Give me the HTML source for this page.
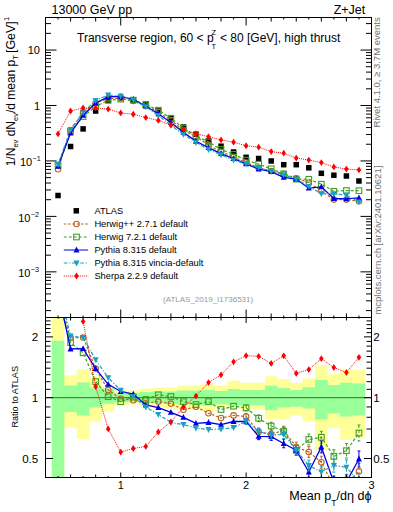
<!DOCTYPE html><html><head><meta charset="utf-8"><style>html,body{margin:0;padding:0;background:#fff;}svg{display:block;}text{font-family:"Liberation Sans",sans-serif;}</style></head><body>
<svg width="393" height="512" viewBox="0 0 393 512">
<defs><clipPath id="cm"><rect x="45.5" y="17.5" width="326" height="300"/></clipPath><clipPath id="cr"><rect x="45.5" y="317.5" width="326" height="160"/></clipPath></defs>
<g clip-path="url(#cr)">
<path d="M51.77,317.00H64.31V477.50H51.77ZM64.31,375.30H76.84V427.60H64.31ZM76.84,369.20H89.38V439.00H76.84ZM89.38,376.30H101.92V421.50H89.38ZM101.92,386.50H114.46V411.40H101.92ZM114.46,390.50H127.00V405.80H114.46ZM127.00,390.60H139.54V404.60H127.00ZM139.53,388.80H152.07V405.90H139.53ZM152.07,387.60H164.61V407.20H152.07ZM164.61,387.60H177.15V408.40H164.61ZM177.15,385.50H189.69V409.70H177.15ZM189.69,385.50H202.22V409.70H189.69ZM202.22,384.30H214.76V411.50H202.22ZM214.76,385.80H227.30V407.20H214.76ZM227.30,380.70H239.84V408.20H227.30ZM239.84,382.80H252.38V409.20H239.84ZM252.38,382.80H264.91V409.20H252.38ZM264.92,376.30H277.45V419.40H264.92ZM277.45,379.00H289.99V419.50H277.45ZM289.99,382.80H302.53V415.60H289.99ZM302.53,378.40H315.07V421.50H302.53ZM315.07,365.20H327.61V450.20H315.07ZM327.61,374.00H340.14V428.20H327.61ZM340.14,369.60H352.68V440.00H340.14ZM352.68,369.60H365.22V437.90H352.68Z" fill="#ffff99"/>
<path d="M51.77,340.70H64.31V477.50H51.77ZM64.31,385.50H76.84V411.90H64.31ZM76.84,382.40H89.38V415.40H76.84ZM89.38,387.50H101.92V407.50H89.38ZM101.92,388.50H114.46V403.80H101.92ZM114.46,393.60H127.00V402.20H114.46ZM127.00,393.20H139.54V402.10H127.00ZM139.53,391.90H152.07V402.80H139.53ZM152.07,391.40H164.61V403.30H152.07ZM164.61,391.40H177.15V403.90H164.61ZM177.15,390.60H189.69V404.60H177.15ZM189.69,390.60H202.22V404.60H189.69ZM202.22,390.10H214.76V405.40H202.22ZM214.76,390.90H227.30V404.20H214.76ZM227.30,388.90H239.84V405.20H227.30ZM239.84,389.90H252.38V405.20H239.84ZM252.38,389.90H264.91V405.20H252.38ZM264.92,385.80H277.45V410.30H264.92ZM277.45,388.00H289.99V407.50H277.45ZM289.99,390.10H302.53V406.80H289.99ZM302.53,387.20H315.07V408.60H302.53ZM315.07,379.90H327.61V419.40H315.07ZM327.61,385.10H340.14V413.60H327.61ZM340.14,382.80H352.68V416.50H340.14ZM352.68,383.40H365.22V415.60H352.68Z" fill="#99ff99"/>
</g>
<line x1="45.5" y1="397.7" x2="371.5" y2="397.7" stroke="#000" stroke-width="1" stroke-opacity="0.6"/>
<g clip-path="url(#cm)">
<rect x="55.29" y="192.75" width="5.5" height="5.5" fill="#000"/>
<rect x="67.83" y="143.75" width="5.5" height="5.5" fill="#000"/>
<rect x="80.36" y="126.15" width="5.5" height="5.5" fill="#000"/>
<rect x="92.90" y="108.25" width="5.5" height="5.5" fill="#000"/>
<rect x="105.44" y="97.75" width="5.5" height="5.5" fill="#000"/>
<rect x="117.98" y="95.25" width="5.5" height="5.5" fill="#000"/>
<rect x="130.52" y="97.55" width="5.5" height="5.5" fill="#000"/>
<rect x="143.05" y="101.45" width="5.5" height="5.5" fill="#000"/>
<rect x="155.59" y="108.25" width="5.5" height="5.5" fill="#000"/>
<rect x="168.13" y="115.75" width="5.5" height="5.5" fill="#000"/>
<rect x="180.67" y="124.25" width="5.5" height="5.5" fill="#000"/>
<rect x="193.21" y="131.45" width="5.5" height="5.5" fill="#000"/>
<rect x="205.74" y="138.05" width="5.5" height="5.5" fill="#000"/>
<rect x="218.28" y="143.45" width="5.5" height="5.5" fill="#000"/>
<rect x="230.82" y="149.25" width="5.5" height="5.5" fill="#000"/>
<rect x="243.36" y="154.55" width="5.5" height="5.5" fill="#000"/>
<rect x="255.90" y="155.75" width="5.5" height="5.5" fill="#000"/>
<rect x="268.43" y="158.25" width="5.5" height="5.5" fill="#000"/>
<rect x="280.97" y="161.95" width="5.5" height="5.5" fill="#000"/>
<rect x="293.51" y="161.95" width="5.5" height="5.5" fill="#000"/>
<rect x="306.05" y="165.05" width="5.5" height="5.5" fill="#000"/>
<rect x="318.59" y="170.55" width="5.5" height="5.5" fill="#000"/>
<rect x="331.12" y="172.45" width="5.5" height="5.5" fill="#000"/>
<rect x="343.66" y="173.25" width="5.5" height="5.5" fill="#000"/>
<rect x="356.20" y="178.25" width="5.5" height="5.5" fill="#000"/>
</g>
<g clip-path="url(#cm)"><polyline points="58.04,169.30 70.58,130.06 83.11,112.37 95.65,103.01 108.19,98.39 120.73,98.27 133.27,100.99 145.80,105.71 158.34,112.07 170.88,120.12 183.42,130.29 195.96,136.67 208.49,145.05 221.03,151.77 233.57,156.86 246.11,162.46 258.65,167.92 271.18,170.96 283.72,173.70 296.26,178.23 308.80,182.71 321.34,191.01 333.87,199.60 346.41,199.60 358.95,201.20" fill="none" stroke="#b9621c" stroke-width="1.2" stroke-dasharray="2.5,1.8"/>
<circle cx="58.04" cy="169.30" r="2.75" fill="none" stroke="#b9621c" stroke-width="1.1"/>
<circle cx="70.58" cy="130.06" r="2.75" fill="none" stroke="#b9621c" stroke-width="1.1"/>
<circle cx="83.11" cy="112.37" r="2.75" fill="none" stroke="#b9621c" stroke-width="1.1"/>
<circle cx="95.65" cy="103.01" r="2.75" fill="none" stroke="#b9621c" stroke-width="1.1"/>
<circle cx="108.19" cy="98.39" r="2.75" fill="none" stroke="#b9621c" stroke-width="1.1"/>
<circle cx="120.73" cy="98.27" r="2.75" fill="none" stroke="#b9621c" stroke-width="1.1"/>
<circle cx="133.27" cy="100.99" r="2.75" fill="none" stroke="#b9621c" stroke-width="1.1"/>
<circle cx="145.80" cy="105.71" r="2.75" fill="none" stroke="#b9621c" stroke-width="1.1"/>
<circle cx="158.34" cy="112.07" r="2.75" fill="none" stroke="#b9621c" stroke-width="1.1"/>
<circle cx="170.88" cy="120.12" r="2.75" fill="none" stroke="#b9621c" stroke-width="1.1"/>
<circle cx="183.42" cy="130.29" r="2.75" fill="none" stroke="#b9621c" stroke-width="1.1"/>
<circle cx="195.96" cy="136.67" r="2.75" fill="none" stroke="#b9621c" stroke-width="1.1"/>
<circle cx="208.49" cy="145.05" r="2.75" fill="none" stroke="#b9621c" stroke-width="1.1"/>
<circle cx="221.03" cy="151.77" r="2.75" fill="none" stroke="#b9621c" stroke-width="1.1"/>
<circle cx="233.57" cy="156.86" r="2.75" fill="none" stroke="#b9621c" stroke-width="1.1"/>
<circle cx="246.11" cy="162.46" r="2.75" fill="none" stroke="#b9621c" stroke-width="1.1"/>
<circle cx="258.65" cy="167.92" r="2.75" fill="none" stroke="#b9621c" stroke-width="1.1"/>
<circle cx="271.18" cy="170.96" r="2.75" fill="none" stroke="#b9621c" stroke-width="1.1"/>
<circle cx="283.72" cy="173.70" r="2.75" fill="none" stroke="#b9621c" stroke-width="1.1"/>
<circle cx="296.26" cy="178.23" r="2.75" fill="none" stroke="#b9621c" stroke-width="1.1"/>
<circle cx="308.80" cy="182.71" r="2.75" fill="none" stroke="#b9621c" stroke-width="1.1"/>
<circle cx="321.34" cy="191.01" r="2.75" fill="none" stroke="#b9621c" stroke-width="1.1"/>
<circle cx="333.87" cy="199.60" r="2.75" fill="none" stroke="#b9621c" stroke-width="1.1"/>
<circle cx="346.41" cy="199.60" r="2.75" fill="none" stroke="#b9621c" stroke-width="1.1"/>
<circle cx="358.95" cy="201.20" r="2.75" fill="none" stroke="#b9621c" stroke-width="1.1"/>
</g>
<g clip-path="url(#cr)"><polyline points="58.04,302.26 70.58,337.80 83.11,337.50 95.65,368.60 108.19,390.00 120.73,398.70 133.27,400.20 145.80,403.20 158.34,401.60 170.88,403.60 183.42,409.70 195.96,406.70 208.49,413.20 221.03,418.00 233.57,415.40 246.11,416.50 258.65,432.00 271.18,434.00 283.72,430.50 296.26,447.00 308.80,452.00 321.34,462.20 333.87,486.59 346.41,483.67 358.95,471.30" fill="none" stroke="#b9621c" stroke-width="1.2" stroke-dasharray="2.5,1.8"/>
<path d="M246.11,413.56V419.44M258.65,428.65V435.35M271.18,430.21V437.79M283.72,426.22V434.78M296.26,442.20V451.80M308.80,446.64V457.36M321.34,456.24V468.16M333.87,479.98V493.19M346.41,476.39V490.96M358.95,463.30V479.30" stroke="#b9621c" stroke-width="1" fill="none" stroke-dasharray="2.5,1.8"/><path d="M244.61,413.56h3M244.61,419.44h3M257.15,428.65h3M257.15,435.35h3M269.68,430.21h3M269.68,437.79h3M282.22,426.22h3M282.22,434.78h3M294.76,442.20h3M294.76,451.80h3M307.30,446.64h3M307.30,457.36h3M319.84,456.24h3M319.84,468.16h3M332.37,479.98h3M332.37,493.19h3M344.91,476.39h3M344.91,490.96h3M357.45,463.30h3M357.45,479.30h3" stroke="#b9621c" stroke-width="1" fill="none"/>
<circle cx="58.04" cy="302.26" r="2.75" fill="none" stroke="#b9621c" stroke-width="1.1"/>
<circle cx="70.58" cy="337.80" r="2.75" fill="none" stroke="#b9621c" stroke-width="1.1"/>
<circle cx="83.11" cy="337.50" r="2.75" fill="none" stroke="#b9621c" stroke-width="1.1"/>
<circle cx="95.65" cy="368.60" r="2.75" fill="none" stroke="#b9621c" stroke-width="1.1"/>
<circle cx="108.19" cy="390.00" r="2.75" fill="none" stroke="#b9621c" stroke-width="1.1"/>
<circle cx="120.73" cy="398.70" r="2.75" fill="none" stroke="#b9621c" stroke-width="1.1"/>
<circle cx="133.27" cy="400.20" r="2.75" fill="none" stroke="#b9621c" stroke-width="1.1"/>
<circle cx="145.80" cy="403.20" r="2.75" fill="none" stroke="#b9621c" stroke-width="1.1"/>
<circle cx="158.34" cy="401.60" r="2.75" fill="none" stroke="#b9621c" stroke-width="1.1"/>
<circle cx="170.88" cy="403.60" r="2.75" fill="none" stroke="#b9621c" stroke-width="1.1"/>
<circle cx="183.42" cy="409.70" r="2.75" fill="none" stroke="#b9621c" stroke-width="1.1"/>
<circle cx="195.96" cy="406.70" r="2.75" fill="none" stroke="#b9621c" stroke-width="1.1"/>
<circle cx="208.49" cy="413.20" r="2.75" fill="none" stroke="#b9621c" stroke-width="1.1"/>
<circle cx="221.03" cy="418.00" r="2.75" fill="none" stroke="#b9621c" stroke-width="1.1"/>
<circle cx="233.57" cy="415.40" r="2.75" fill="none" stroke="#b9621c" stroke-width="1.1"/>
<circle cx="246.11" cy="416.50" r="2.75" fill="none" stroke="#b9621c" stroke-width="1.1"/>
<circle cx="258.65" cy="432.00" r="2.75" fill="none" stroke="#b9621c" stroke-width="1.1"/>
<circle cx="271.18" cy="434.00" r="2.75" fill="none" stroke="#b9621c" stroke-width="1.1"/>
<circle cx="283.72" cy="430.50" r="2.75" fill="none" stroke="#b9621c" stroke-width="1.1"/>
<circle cx="296.26" cy="447.00" r="2.75" fill="none" stroke="#b9621c" stroke-width="1.1"/>
<circle cx="308.80" cy="452.00" r="2.75" fill="none" stroke="#b9621c" stroke-width="1.1"/>
<circle cx="321.34" cy="462.20" r="2.75" fill="none" stroke="#b9621c" stroke-width="1.1"/>
<circle cx="333.87" cy="486.59" r="2.75" fill="none" stroke="#b9621c" stroke-width="1.1"/>
<circle cx="346.41" cy="483.67" r="2.75" fill="none" stroke="#b9621c" stroke-width="1.1"/>
<circle cx="358.95" cy="471.30" r="2.75" fill="none" stroke="#b9621c" stroke-width="1.1"/>
</g>
<g clip-path="url(#cm)"><polyline points="58.04,165.00 70.58,131.37 83.11,116.57 95.65,106.58 108.19,100.23 120.73,99.10 133.27,100.11 145.80,104.67 158.34,110.20 170.88,118.17 183.42,128.07 195.96,136.09 208.49,141.87 221.03,149.44 233.57,154.33 246.11,160.10 258.65,164.15 271.18,168.77 283.72,173.92 296.26,179.14 308.80,179.27 321.34,184.17 333.87,191.31 346.41,190.55 358.95,190.69" fill="none" stroke="#40a020" stroke-width="1.2" stroke-dasharray="3,2"/>
<rect x="55.24" y="162.20" width="5.6" height="5.6" fill="none" stroke="#40a020" stroke-width="1.1"/>
<rect x="67.78" y="128.57" width="5.6" height="5.6" fill="none" stroke="#40a020" stroke-width="1.1"/>
<rect x="80.31" y="113.77" width="5.6" height="5.6" fill="none" stroke="#40a020" stroke-width="1.1"/>
<rect x="92.85" y="103.78" width="5.6" height="5.6" fill="none" stroke="#40a020" stroke-width="1.1"/>
<rect x="105.39" y="97.43" width="5.6" height="5.6" fill="none" stroke="#40a020" stroke-width="1.1"/>
<rect x="117.93" y="96.30" width="5.6" height="5.6" fill="none" stroke="#40a020" stroke-width="1.1"/>
<rect x="130.47" y="97.31" width="5.6" height="5.6" fill="none" stroke="#40a020" stroke-width="1.1"/>
<rect x="143.00" y="101.87" width="5.6" height="5.6" fill="none" stroke="#40a020" stroke-width="1.1"/>
<rect x="155.54" y="107.40" width="5.6" height="5.6" fill="none" stroke="#40a020" stroke-width="1.1"/>
<rect x="168.08" y="115.37" width="5.6" height="5.6" fill="none" stroke="#40a020" stroke-width="1.1"/>
<rect x="180.62" y="125.27" width="5.6" height="5.6" fill="none" stroke="#40a020" stroke-width="1.1"/>
<rect x="193.16" y="133.29" width="5.6" height="5.6" fill="none" stroke="#40a020" stroke-width="1.1"/>
<rect x="205.69" y="139.07" width="5.6" height="5.6" fill="none" stroke="#40a020" stroke-width="1.1"/>
<rect x="218.23" y="146.64" width="5.6" height="5.6" fill="none" stroke="#40a020" stroke-width="1.1"/>
<rect x="230.77" y="151.53" width="5.6" height="5.6" fill="none" stroke="#40a020" stroke-width="1.1"/>
<rect x="243.31" y="157.30" width="5.6" height="5.6" fill="none" stroke="#40a020" stroke-width="1.1"/>
<rect x="255.85" y="161.35" width="5.6" height="5.6" fill="none" stroke="#40a020" stroke-width="1.1"/>
<rect x="268.38" y="165.97" width="5.6" height="5.6" fill="none" stroke="#40a020" stroke-width="1.1"/>
<rect x="280.92" y="171.12" width="5.6" height="5.6" fill="none" stroke="#40a020" stroke-width="1.1"/>
<rect x="293.46" y="176.34" width="5.6" height="5.6" fill="none" stroke="#40a020" stroke-width="1.1"/>
<rect x="306.00" y="176.47" width="5.6" height="5.6" fill="none" stroke="#40a020" stroke-width="1.1"/>
<rect x="318.54" y="181.37" width="5.6" height="5.6" fill="none" stroke="#40a020" stroke-width="1.1"/>
<rect x="331.07" y="188.51" width="5.6" height="5.6" fill="none" stroke="#40a020" stroke-width="1.1"/>
<rect x="343.61" y="187.75" width="5.6" height="5.6" fill="none" stroke="#40a020" stroke-width="1.1"/>
<rect x="356.15" y="187.89" width="5.6" height="5.6" fill="none" stroke="#40a020" stroke-width="1.1"/>
</g>
<g clip-path="url(#cr)"><polyline points="58.04,286.59 70.58,342.60 83.11,352.80 95.65,381.60 108.19,396.70 120.73,401.70 133.27,397.00 145.80,399.40 158.34,394.80 170.88,396.50 183.42,401.60 195.96,404.60 208.49,401.60 221.03,409.50 233.57,406.20 246.11,407.90 258.65,418.30 271.18,426.00 283.72,431.30 296.26,450.30 308.80,439.50 321.34,437.30 333.87,456.40 346.41,450.70 358.95,433.00" fill="none" stroke="#40a020" stroke-width="1.2" stroke-dasharray="3,2"/>
<path d="M246.11,404.96V410.84M258.65,414.95V421.65M271.18,422.21V429.79M283.72,427.02V435.58M296.26,445.50V455.10M308.80,434.14V444.86M321.34,431.34V443.26M333.87,449.80V463.00M346.41,443.42V457.98M358.95,425.00V441.00" stroke="#40a020" stroke-width="1" fill="none" stroke-dasharray="3,2"/><path d="M244.61,404.96h3M244.61,410.84h3M257.15,414.95h3M257.15,421.65h3M269.68,422.21h3M269.68,429.79h3M282.22,427.02h3M282.22,435.58h3M294.76,445.50h3M294.76,455.10h3M307.30,434.14h3M307.30,444.86h3M319.84,431.34h3M319.84,443.26h3M332.37,449.80h3M332.37,463.00h3M344.91,443.42h3M344.91,457.98h3M357.45,425.00h3M357.45,441.00h3" stroke="#40a020" stroke-width="1" fill="none"/>
<rect x="55.24" y="283.79" width="5.6" height="5.6" fill="none" stroke="#40a020" stroke-width="1.1"/>
<rect x="67.78" y="339.80" width="5.6" height="5.6" fill="none" stroke="#40a020" stroke-width="1.1"/>
<rect x="80.31" y="350.00" width="5.6" height="5.6" fill="none" stroke="#40a020" stroke-width="1.1"/>
<rect x="92.85" y="378.80" width="5.6" height="5.6" fill="none" stroke="#40a020" stroke-width="1.1"/>
<rect x="105.39" y="393.90" width="5.6" height="5.6" fill="none" stroke="#40a020" stroke-width="1.1"/>
<rect x="117.93" y="398.90" width="5.6" height="5.6" fill="none" stroke="#40a020" stroke-width="1.1"/>
<rect x="130.47" y="394.20" width="5.6" height="5.6" fill="none" stroke="#40a020" stroke-width="1.1"/>
<rect x="143.00" y="396.60" width="5.6" height="5.6" fill="none" stroke="#40a020" stroke-width="1.1"/>
<rect x="155.54" y="392.00" width="5.6" height="5.6" fill="none" stroke="#40a020" stroke-width="1.1"/>
<rect x="168.08" y="393.70" width="5.6" height="5.6" fill="none" stroke="#40a020" stroke-width="1.1"/>
<rect x="180.62" y="398.80" width="5.6" height="5.6" fill="none" stroke="#40a020" stroke-width="1.1"/>
<rect x="193.16" y="401.80" width="5.6" height="5.6" fill="none" stroke="#40a020" stroke-width="1.1"/>
<rect x="205.69" y="398.80" width="5.6" height="5.6" fill="none" stroke="#40a020" stroke-width="1.1"/>
<rect x="218.23" y="406.70" width="5.6" height="5.6" fill="none" stroke="#40a020" stroke-width="1.1"/>
<rect x="230.77" y="403.40" width="5.6" height="5.6" fill="none" stroke="#40a020" stroke-width="1.1"/>
<rect x="243.31" y="405.10" width="5.6" height="5.6" fill="none" stroke="#40a020" stroke-width="1.1"/>
<rect x="255.85" y="415.50" width="5.6" height="5.6" fill="none" stroke="#40a020" stroke-width="1.1"/>
<rect x="268.38" y="423.20" width="5.6" height="5.6" fill="none" stroke="#40a020" stroke-width="1.1"/>
<rect x="280.92" y="428.50" width="5.6" height="5.6" fill="none" stroke="#40a020" stroke-width="1.1"/>
<rect x="293.46" y="447.50" width="5.6" height="5.6" fill="none" stroke="#40a020" stroke-width="1.1"/>
<rect x="306.00" y="436.70" width="5.6" height="5.6" fill="none" stroke="#40a020" stroke-width="1.1"/>
<rect x="318.54" y="434.50" width="5.6" height="5.6" fill="none" stroke="#40a020" stroke-width="1.1"/>
<rect x="331.07" y="453.60" width="5.6" height="5.6" fill="none" stroke="#40a020" stroke-width="1.1"/>
<rect x="343.61" y="447.90" width="5.6" height="5.6" fill="none" stroke="#40a020" stroke-width="1.1"/>
<rect x="356.15" y="430.20" width="5.6" height="5.6" fill="none" stroke="#40a020" stroke-width="1.1"/>
</g>
<g clip-path="url(#cm)"><polyline points="58.04,166.30 70.58,133.13 83.11,115.45 95.65,103.01 108.19,96.82 120.73,96.30 133.27,99.31 145.80,106.20 158.34,113.75 170.88,122.54 183.42,132.38 195.96,141.25 208.49,147.61 221.03,153.58 233.57,158.53 246.11,163.81 258.65,169.10 271.18,171.68 283.72,177.27 296.26,179.14 308.80,188.20 321.34,186.83 333.87,198.50 346.41,198.90 358.95,197.83" fill="none" stroke="#0000e6" stroke-width="1.3"/>
<path d="M58.04,162.90L61.04,168.70L55.04,168.70Z" fill="#0000e6"/>
<path d="M70.58,129.73L73.58,135.53L67.58,135.53Z" fill="#0000e6"/>
<path d="M83.11,112.05L86.11,117.85L80.11,117.85Z" fill="#0000e6"/>
<path d="M95.65,99.61L98.65,105.41L92.65,105.41Z" fill="#0000e6"/>
<path d="M108.19,93.42L111.19,99.22L105.19,99.22Z" fill="#0000e6"/>
<path d="M120.73,92.90L123.73,98.70L117.73,98.70Z" fill="#0000e6"/>
<path d="M133.27,95.91L136.27,101.71L130.27,101.71Z" fill="#0000e6"/>
<path d="M145.80,102.80L148.80,108.60L142.80,108.60Z" fill="#0000e6"/>
<path d="M158.34,110.35L161.34,116.15L155.34,116.15Z" fill="#0000e6"/>
<path d="M170.88,119.14L173.88,124.94L167.88,124.94Z" fill="#0000e6"/>
<path d="M183.42,128.98L186.42,134.78L180.42,134.78Z" fill="#0000e6"/>
<path d="M195.96,137.85L198.96,143.65L192.96,143.65Z" fill="#0000e6"/>
<path d="M208.49,144.21L211.49,150.01L205.49,150.01Z" fill="#0000e6"/>
<path d="M221.03,150.18L224.03,155.98L218.03,155.98Z" fill="#0000e6"/>
<path d="M233.57,155.13L236.57,160.93L230.57,160.93Z" fill="#0000e6"/>
<path d="M246.11,160.41L249.11,166.21L243.11,166.21Z" fill="#0000e6"/>
<path d="M258.65,165.70L261.65,171.50L255.65,171.50Z" fill="#0000e6"/>
<path d="M271.18,168.28L274.18,174.08L268.18,174.08Z" fill="#0000e6"/>
<path d="M283.72,173.87L286.72,179.67L280.72,179.67Z" fill="#0000e6"/>
<path d="M296.26,175.74L299.26,181.54L293.26,181.54Z" fill="#0000e6"/>
<path d="M308.80,184.80L311.80,190.60L305.80,190.60Z" fill="#0000e6"/>
<path d="M321.34,183.43L324.34,189.23L318.34,189.23Z" fill="#0000e6"/>
<path d="M333.87,195.10L336.87,200.90L330.87,200.90Z" fill="#0000e6"/>
<path d="M346.41,195.50L349.41,201.30L343.41,201.30Z" fill="#0000e6"/>
<path d="M358.95,194.43L361.95,200.23L355.95,200.23Z" fill="#0000e6"/>
</g>
<g clip-path="url(#cr)"><polyline points="58.04,291.33 70.58,349.00 83.11,348.70 95.65,368.60 108.19,384.30 120.73,391.50 133.27,394.10 145.80,405.00 158.34,407.70 170.88,412.40 183.42,417.30 195.96,423.40 208.49,422.50 221.03,424.60 233.57,421.50 246.11,421.40 258.65,436.30 271.18,436.60 283.72,443.50 296.26,450.30 308.80,472.00 321.34,447.00 333.87,482.58 346.41,482.00 358.95,459.00" fill="none" stroke="#0000e6" stroke-width="1.3"/>
<path d="M246.11,418.46V424.34M258.65,432.95V439.65M271.18,432.81V440.39M283.72,439.22V447.78M296.26,445.50V455.10M308.80,466.64V477.36M321.34,441.04V452.96M333.87,475.98V489.18M346.41,474.72V489.28M358.95,451.00V467.00" stroke="#0000e6" stroke-width="1" fill="none"/><path d="M244.61,418.46h3M244.61,424.34h3M257.15,432.95h3M257.15,439.65h3M269.68,432.81h3M269.68,440.39h3M282.22,439.22h3M282.22,447.78h3M294.76,445.50h3M294.76,455.10h3M307.30,466.64h3M307.30,477.36h3M319.84,441.04h3M319.84,452.96h3M332.37,475.98h3M332.37,489.18h3M344.91,474.72h3M344.91,489.28h3M357.45,451.00h3M357.45,467.00h3" stroke="#0000e6" stroke-width="1" fill="none"/>
<path d="M58.04,287.93L61.04,293.73L55.04,293.73Z" fill="#0000e6"/>
<path d="M70.58,345.60L73.58,351.40L67.58,351.40Z" fill="#0000e6"/>
<path d="M83.11,345.30L86.11,351.10L80.11,351.10Z" fill="#0000e6"/>
<path d="M95.65,365.20L98.65,371.00L92.65,371.00Z" fill="#0000e6"/>
<path d="M108.19,380.90L111.19,386.70L105.19,386.70Z" fill="#0000e6"/>
<path d="M120.73,388.10L123.73,393.90L117.73,393.90Z" fill="#0000e6"/>
<path d="M133.27,390.70L136.27,396.50L130.27,396.50Z" fill="#0000e6"/>
<path d="M145.80,401.60L148.80,407.40L142.80,407.40Z" fill="#0000e6"/>
<path d="M158.34,404.30L161.34,410.10L155.34,410.10Z" fill="#0000e6"/>
<path d="M170.88,409.00L173.88,414.80L167.88,414.80Z" fill="#0000e6"/>
<path d="M183.42,413.90L186.42,419.70L180.42,419.70Z" fill="#0000e6"/>
<path d="M195.96,420.00L198.96,425.80L192.96,425.80Z" fill="#0000e6"/>
<path d="M208.49,419.10L211.49,424.90L205.49,424.90Z" fill="#0000e6"/>
<path d="M221.03,421.20L224.03,427.00L218.03,427.00Z" fill="#0000e6"/>
<path d="M233.57,418.10L236.57,423.90L230.57,423.90Z" fill="#0000e6"/>
<path d="M246.11,418.00L249.11,423.80L243.11,423.80Z" fill="#0000e6"/>
<path d="M258.65,432.90L261.65,438.70L255.65,438.70Z" fill="#0000e6"/>
<path d="M271.18,433.20L274.18,439.00L268.18,439.00Z" fill="#0000e6"/>
<path d="M283.72,440.10L286.72,445.90L280.72,445.90Z" fill="#0000e6"/>
<path d="M296.26,446.90L299.26,452.70L293.26,452.70Z" fill="#0000e6"/>
<path d="M308.80,468.60L311.80,474.40L305.80,474.40Z" fill="#0000e6"/>
<path d="M321.34,443.60L324.34,449.40L318.34,449.40Z" fill="#0000e6"/>
<path d="M333.87,479.18L336.87,484.98L330.87,484.98Z" fill="#0000e6"/>
<path d="M346.41,478.60L349.41,484.40L343.41,484.40Z" fill="#0000e6"/>
<path d="M358.95,455.60L361.95,461.40L355.95,461.40Z" fill="#0000e6"/>
</g>
<g clip-path="url(#cm)"><polyline points="58.04,164.50 70.58,129.59 83.11,112.37 95.65,100.57 108.19,95.01 120.73,95.97 133.27,99.94 145.80,106.75 158.34,115.58 170.88,125.31 183.42,134.38 195.96,142.52 208.49,149.53 221.03,154.82 233.57,160.21 246.11,163.83 258.65,167.72 271.18,171.27 283.72,174.77 296.26,179.14 308.80,186.41 321.34,193.70 333.87,193.81 346.41,195.08 358.95,201.90" fill="none" stroke="#18a0c0" stroke-width="1.2" stroke-dasharray="3.7,1.8,1.1,1.6"/>
<path d="M58.04,167.90L61.04,162.00L55.04,162.00Z" fill="#18a0c0"/>
<path d="M70.58,132.99L73.58,127.09L67.58,127.09Z" fill="#18a0c0"/>
<path d="M83.11,115.77L86.11,109.87L80.11,109.87Z" fill="#18a0c0"/>
<path d="M95.65,103.97L98.65,98.07L92.65,98.07Z" fill="#18a0c0"/>
<path d="M108.19,98.41L111.19,92.51L105.19,92.51Z" fill="#18a0c0"/>
<path d="M120.73,99.37L123.73,93.47L117.73,93.47Z" fill="#18a0c0"/>
<path d="M133.27,103.34L136.27,97.44L130.27,97.44Z" fill="#18a0c0"/>
<path d="M145.80,110.15L148.80,104.25L142.80,104.25Z" fill="#18a0c0"/>
<path d="M158.34,118.98L161.34,113.08L155.34,113.08Z" fill="#18a0c0"/>
<path d="M170.88,128.71L173.88,122.81L167.88,122.81Z" fill="#18a0c0"/>
<path d="M183.42,137.78L186.42,131.88L180.42,131.88Z" fill="#18a0c0"/>
<path d="M195.96,145.92L198.96,140.02L192.96,140.02Z" fill="#18a0c0"/>
<path d="M208.49,152.93L211.49,147.03L205.49,147.03Z" fill="#18a0c0"/>
<path d="M221.03,158.22L224.03,152.32L218.03,152.32Z" fill="#18a0c0"/>
<path d="M233.57,163.61L236.57,157.71L230.57,157.71Z" fill="#18a0c0"/>
<path d="M246.11,167.23L249.11,161.33L243.11,161.33Z" fill="#18a0c0"/>
<path d="M258.65,171.12L261.65,165.22L255.65,165.22Z" fill="#18a0c0"/>
<path d="M271.18,174.67L274.18,168.77L268.18,168.77Z" fill="#18a0c0"/>
<path d="M283.72,178.17L286.72,172.27L280.72,172.27Z" fill="#18a0c0"/>
<path d="M296.26,182.54L299.26,176.64L293.26,176.64Z" fill="#18a0c0"/>
<path d="M308.80,189.81L311.80,183.91L305.80,183.91Z" fill="#18a0c0"/>
<path d="M321.34,197.10L324.34,191.20L318.34,191.20Z" fill="#18a0c0"/>
<path d="M333.87,197.21L336.87,191.31L330.87,191.31Z" fill="#18a0c0"/>
<path d="M346.41,198.48L349.41,192.58L343.41,192.58Z" fill="#18a0c0"/>
<path d="M358.95,205.30L361.95,199.40L355.95,199.40Z" fill="#18a0c0"/>
</g>
<g clip-path="url(#cr)"><polyline points="58.04,284.77 70.58,336.10 83.11,337.50 95.65,359.70 108.19,377.70 120.73,390.30 133.27,396.40 145.80,407.00 158.34,414.40 170.88,422.50 183.42,424.60 195.96,428.00 208.49,429.50 221.03,429.10 233.57,427.60 246.11,421.50 258.65,431.30 271.18,435.10 283.72,434.40 296.26,450.30 308.80,465.50 321.34,472.00 333.87,465.50 346.41,467.20 358.95,482.00" fill="none" stroke="#18a0c0" stroke-width="1.2" stroke-dasharray="3.7,1.8,1.1,1.6"/>
<path d="M246.11,418.56V424.44M258.65,427.95V434.65M271.18,431.31V438.89M283.72,430.12V438.68M296.26,445.50V455.10M308.80,460.14V470.86M321.34,466.04V477.96M333.87,458.90V472.10M346.41,459.92V474.48M358.95,474.00V490.00" stroke="#18a0c0" stroke-width="1" fill="none" stroke-dasharray="3.7,1.8,1.1,1.6"/><path d="M244.61,418.56h3M244.61,424.44h3M257.15,427.95h3M257.15,434.65h3M269.68,431.31h3M269.68,438.89h3M282.22,430.12h3M282.22,438.68h3M294.76,445.50h3M294.76,455.10h3M307.30,460.14h3M307.30,470.86h3M319.84,466.04h3M319.84,477.96h3M332.37,458.90h3M332.37,472.10h3M344.91,459.92h3M344.91,474.48h3M357.45,474.00h3M357.45,490.00h3" stroke="#18a0c0" stroke-width="1" fill="none"/>
<path d="M58.04,288.17L61.04,282.27L55.04,282.27Z" fill="#18a0c0"/>
<path d="M70.58,339.50L73.58,333.60L67.58,333.60Z" fill="#18a0c0"/>
<path d="M83.11,340.90L86.11,335.00L80.11,335.00Z" fill="#18a0c0"/>
<path d="M95.65,363.10L98.65,357.20L92.65,357.20Z" fill="#18a0c0"/>
<path d="M108.19,381.10L111.19,375.20L105.19,375.20Z" fill="#18a0c0"/>
<path d="M120.73,393.70L123.73,387.80L117.73,387.80Z" fill="#18a0c0"/>
<path d="M133.27,399.80L136.27,393.90L130.27,393.90Z" fill="#18a0c0"/>
<path d="M145.80,410.40L148.80,404.50L142.80,404.50Z" fill="#18a0c0"/>
<path d="M158.34,417.80L161.34,411.90L155.34,411.90Z" fill="#18a0c0"/>
<path d="M170.88,425.90L173.88,420.00L167.88,420.00Z" fill="#18a0c0"/>
<path d="M183.42,428.00L186.42,422.10L180.42,422.10Z" fill="#18a0c0"/>
<path d="M195.96,431.40L198.96,425.50L192.96,425.50Z" fill="#18a0c0"/>
<path d="M208.49,432.90L211.49,427.00L205.49,427.00Z" fill="#18a0c0"/>
<path d="M221.03,432.50L224.03,426.60L218.03,426.60Z" fill="#18a0c0"/>
<path d="M233.57,431.00L236.57,425.10L230.57,425.10Z" fill="#18a0c0"/>
<path d="M246.11,424.90L249.11,419.00L243.11,419.00Z" fill="#18a0c0"/>
<path d="M258.65,434.70L261.65,428.80L255.65,428.80Z" fill="#18a0c0"/>
<path d="M271.18,438.50L274.18,432.60L268.18,432.60Z" fill="#18a0c0"/>
<path d="M283.72,437.80L286.72,431.90L280.72,431.90Z" fill="#18a0c0"/>
<path d="M296.26,453.70L299.26,447.80L293.26,447.80Z" fill="#18a0c0"/>
<path d="M308.80,468.90L311.80,463.00L305.80,463.00Z" fill="#18a0c0"/>
<path d="M321.34,475.40L324.34,469.50L318.34,469.50Z" fill="#18a0c0"/>
<path d="M333.87,468.90L336.87,463.00L330.87,463.00Z" fill="#18a0c0"/>
<path d="M346.41,470.60L349.41,464.70L343.41,464.70Z" fill="#18a0c0"/>
<path d="M358.95,485.40L361.95,479.50L355.95,479.50Z" fill="#18a0c0"/>
</g>
<g clip-path="url(#cm)"><polyline points="58.04,133.90 70.58,111.00 83.11,107.96 95.65,107.93 108.19,109.06 120.73,112.93 133.27,114.24 145.80,117.57 158.34,120.42 170.88,125.14 183.42,129.58 195.96,133.76 208.49,136.65 221.03,139.91 233.57,142.15 246.11,145.77 258.65,147.14 271.18,151.58 283.72,153.20 296.26,158.03 308.80,160.09 321.34,162.59 333.87,166.91 346.41,169.08 358.95,169.91" fill="none" stroke="#ff0000" stroke-width="1.0" stroke-dasharray="1,1"/>
<path d="M58.04,130.50L60.34,133.90L58.04,137.30L55.74,133.90Z" fill="#ff0000"/>
<path d="M70.58,107.60L72.88,111.00L70.58,114.40L68.28,111.00Z" fill="#ff0000"/>
<path d="M83.11,104.56L85.41,107.96L83.11,111.36L80.81,107.96Z" fill="#ff0000"/>
<path d="M95.65,104.53L97.95,107.93L95.65,111.33L93.35,107.93Z" fill="#ff0000"/>
<path d="M108.19,105.66L110.49,109.06L108.19,112.46L105.89,109.06Z" fill="#ff0000"/>
<path d="M120.73,109.53L123.03,112.93L120.73,116.33L118.43,112.93Z" fill="#ff0000"/>
<path d="M133.27,110.84L135.57,114.24L133.27,117.64L130.97,114.24Z" fill="#ff0000"/>
<path d="M145.80,114.17L148.10,117.57L145.80,120.97L143.50,117.57Z" fill="#ff0000"/>
<path d="M158.34,117.02L160.64,120.42L158.34,123.82L156.04,120.42Z" fill="#ff0000"/>
<path d="M170.88,121.74L173.18,125.14L170.88,128.54L168.58,125.14Z" fill="#ff0000"/>
<path d="M183.42,126.18L185.72,129.58L183.42,132.98L181.12,129.58Z" fill="#ff0000"/>
<path d="M195.96,130.36L198.26,133.76L195.96,137.16L193.66,133.76Z" fill="#ff0000"/>
<path d="M208.49,133.25L210.79,136.65L208.49,140.05L206.19,136.65Z" fill="#ff0000"/>
<path d="M221.03,136.51L223.33,139.91L221.03,143.31L218.73,139.91Z" fill="#ff0000"/>
<path d="M233.57,138.75L235.87,142.15L233.57,145.55L231.27,142.15Z" fill="#ff0000"/>
<path d="M246.11,142.37L248.41,145.77L246.11,149.17L243.81,145.77Z" fill="#ff0000"/>
<path d="M258.65,143.74L260.95,147.14L258.65,150.54L256.35,147.14Z" fill="#ff0000"/>
<path d="M271.18,148.18L273.48,151.58L271.18,154.98L268.88,151.58Z" fill="#ff0000"/>
<path d="M283.72,149.80L286.02,153.20L283.72,156.60L281.42,153.20Z" fill="#ff0000"/>
<path d="M296.26,154.63L298.56,158.03L296.26,161.43L293.96,158.03Z" fill="#ff0000"/>
<path d="M308.80,156.69L311.10,160.09L308.80,163.49L306.50,160.09Z" fill="#ff0000"/>
<path d="M321.34,159.19L323.64,162.59L321.34,165.99L319.04,162.59Z" fill="#ff0000"/>
<path d="M333.87,163.51L336.17,166.91L333.87,170.31L331.57,166.91Z" fill="#ff0000"/>
<path d="M346.41,165.68L348.71,169.08L346.41,172.48L344.11,169.08Z" fill="#ff0000"/>
<path d="M358.95,166.51L361.25,169.91L358.95,173.31L356.65,169.91Z" fill="#ff0000"/>
</g>
<g clip-path="url(#cr)"><polyline points="58.04,173.30 70.58,268.38 83.11,321.40 95.65,386.50 108.19,428.90 120.73,452.10 133.27,448.50 145.80,446.40 158.34,432.00 170.88,421.90 183.42,407.10 195.96,396.10 208.49,382.60 221.03,374.80 233.57,361.80 246.11,355.70 258.65,356.30 271.18,363.40 283.72,355.80 296.26,373.40 308.80,369.60 321.34,358.70 333.87,367.50 346.41,372.50 358.95,357.30" fill="none" stroke="#ff0000" stroke-width="1.0" stroke-dasharray="1,1"/>
<path d="M58.04,169.90L60.34,173.30L58.04,176.70L55.74,173.30Z" fill="#ff0000"/>
<path d="M70.58,264.98L72.88,268.38L70.58,271.78L68.28,268.38Z" fill="#ff0000"/>
<path d="M83.11,318.00L85.41,321.40L83.11,324.80L80.81,321.40Z" fill="#ff0000"/>
<path d="M95.65,383.10L97.95,386.50L95.65,389.90L93.35,386.50Z" fill="#ff0000"/>
<path d="M108.19,425.50L110.49,428.90L108.19,432.30L105.89,428.90Z" fill="#ff0000"/>
<path d="M120.73,448.70L123.03,452.10L120.73,455.50L118.43,452.10Z" fill="#ff0000"/>
<path d="M133.27,445.10L135.57,448.50L133.27,451.90L130.97,448.50Z" fill="#ff0000"/>
<path d="M145.80,443.00L148.10,446.40L145.80,449.80L143.50,446.40Z" fill="#ff0000"/>
<path d="M158.34,428.60L160.64,432.00L158.34,435.40L156.04,432.00Z" fill="#ff0000"/>
<path d="M170.88,418.50L173.18,421.90L170.88,425.30L168.58,421.90Z" fill="#ff0000"/>
<path d="M183.42,403.70L185.72,407.10L183.42,410.50L181.12,407.10Z" fill="#ff0000"/>
<path d="M195.96,392.70L198.26,396.10L195.96,399.50L193.66,396.10Z" fill="#ff0000"/>
<path d="M208.49,379.20L210.79,382.60L208.49,386.00L206.19,382.60Z" fill="#ff0000"/>
<path d="M221.03,371.40L223.33,374.80L221.03,378.20L218.73,374.80Z" fill="#ff0000"/>
<path d="M233.57,358.40L235.87,361.80L233.57,365.20L231.27,361.80Z" fill="#ff0000"/>
<path d="M246.11,352.30L248.41,355.70L246.11,359.10L243.81,355.70Z" fill="#ff0000"/>
<path d="M258.65,352.90L260.95,356.30L258.65,359.70L256.35,356.30Z" fill="#ff0000"/>
<path d="M271.18,360.00L273.48,363.40L271.18,366.80L268.88,363.40Z" fill="#ff0000"/>
<path d="M283.72,352.40L286.02,355.80L283.72,359.20L281.42,355.80Z" fill="#ff0000"/>
<path d="M296.26,370.00L298.56,373.40L296.26,376.80L293.96,373.40Z" fill="#ff0000"/>
<path d="M308.80,366.20L311.10,369.60L308.80,373.00L306.50,369.60Z" fill="#ff0000"/>
<path d="M321.34,355.30L323.64,358.70L321.34,362.10L319.04,358.70Z" fill="#ff0000"/>
<path d="M333.87,364.10L336.17,367.50L333.87,370.90L331.57,367.50Z" fill="#ff0000"/>
<path d="M346.41,369.10L348.71,372.50L346.41,375.90L344.11,372.50Z" fill="#ff0000"/>
<path d="M358.95,353.90L361.25,357.30L358.95,360.70L356.65,357.30Z" fill="#ff0000"/>
</g>
<g stroke="#000" stroke-width="1" fill="none">
<rect x="45.5" y="17.5" width="326.0" height="300.0"/>
<rect x="45.5" y="317.5" width="326.0" height="160.0"/>
<path d="M58.04,17.5v2M58.04,317.5v-2M58.04,317.5v1.2M58.04,477.5v-1.5M70.58,17.5v4M70.58,317.5v-4M70.58,317.5v3M70.58,477.5v-3M83.11,17.5v2M83.11,317.5v-2M83.11,317.5v1.2M83.11,477.5v-1.5M95.65,17.5v4M95.65,317.5v-4M95.65,317.5v3M95.65,477.5v-3M108.19,17.5v2M108.19,317.5v-2M108.19,317.5v1.2M108.19,477.5v-1.5M120.73,17.5v8M120.73,317.5v-8M120.73,317.5v5.5M120.73,477.5v-5M133.27,17.5v2M133.27,317.5v-2M133.27,317.5v1.2M133.27,477.5v-1.5M145.80,17.5v4M145.80,317.5v-4M145.80,317.5v3M145.80,477.5v-3M158.34,17.5v2M158.34,317.5v-2M158.34,317.5v1.2M158.34,477.5v-1.5M170.88,17.5v4M170.88,317.5v-4M170.88,317.5v3M170.88,477.5v-3M183.42,17.5v2M183.42,317.5v-2M183.42,317.5v1.2M183.42,477.5v-1.5M195.96,17.5v4M195.96,317.5v-4M195.96,317.5v3M195.96,477.5v-3M208.49,17.5v2M208.49,317.5v-2M208.49,317.5v1.2M208.49,477.5v-1.5M221.03,17.5v4M221.03,317.5v-4M221.03,317.5v3M221.03,477.5v-3M233.57,17.5v2M233.57,317.5v-2M233.57,317.5v1.2M233.57,477.5v-1.5M246.11,17.5v8M246.11,317.5v-8M246.11,317.5v5.5M246.11,477.5v-5M258.65,17.5v2M258.65,317.5v-2M258.65,317.5v1.2M258.65,477.5v-1.5M271.18,17.5v4M271.18,317.5v-4M271.18,317.5v3M271.18,477.5v-3M283.72,17.5v2M283.72,317.5v-2M283.72,317.5v1.2M283.72,477.5v-1.5M296.26,17.5v4M296.26,317.5v-4M296.26,317.5v3M296.26,477.5v-3M308.80,17.5v2M308.80,317.5v-2M308.80,317.5v1.2M308.80,477.5v-1.5M321.34,17.5v4M321.34,317.5v-4M321.34,317.5v3M321.34,477.5v-3M333.87,17.5v2M333.87,317.5v-2M333.87,317.5v1.2M333.87,477.5v-1.5M346.41,17.5v4M346.41,317.5v-4M346.41,317.5v3M346.41,477.5v-3M358.95,17.5v2M358.95,317.5v-2M358.95,317.5v1.2M358.95,477.5v-1.5M45.5,310.61h5.5M371.5,310.61h-5.5M45.5,300.84h5.5M371.5,300.84h-5.5M45.5,293.92h5.5M371.5,293.92h-5.5M45.5,288.54h5.5M371.5,288.54h-5.5M45.5,284.15h5.5M371.5,284.15h-5.5M45.5,280.44h5.5M371.5,280.44h-5.5M45.5,277.22h5.5M371.5,277.22h-5.5M45.5,274.39h5.5M371.5,274.39h-5.5M45.5,271.85h11M371.5,271.85h-11M45.5,255.16h5.5M371.5,255.16h-5.5M45.5,245.39h5.5M371.5,245.39h-5.5M45.5,238.47h5.5M371.5,238.47h-5.5M45.5,233.09h5.5M371.5,233.09h-5.5M45.5,228.70h5.5M371.5,228.70h-5.5M45.5,224.99h5.5M371.5,224.99h-5.5M45.5,221.77h5.5M371.5,221.77h-5.5M45.5,218.94h5.5M371.5,218.94h-5.5M45.5,216.40h11M371.5,216.40h-11M45.5,199.71h5.5M371.5,199.71h-5.5M45.5,189.94h5.5M371.5,189.94h-5.5M45.5,183.02h5.5M371.5,183.02h-5.5M45.5,177.64h5.5M371.5,177.64h-5.5M45.5,173.25h5.5M371.5,173.25h-5.5M45.5,169.54h5.5M371.5,169.54h-5.5M45.5,166.32h5.5M371.5,166.32h-5.5M45.5,163.49h5.5M371.5,163.49h-5.5M45.5,160.95h11M371.5,160.95h-11M45.5,144.26h5.5M371.5,144.26h-5.5M45.5,134.49h5.5M371.5,134.49h-5.5M45.5,127.57h5.5M371.5,127.57h-5.5M45.5,122.19h5.5M371.5,122.19h-5.5M45.5,117.80h5.5M371.5,117.80h-5.5M45.5,114.09h5.5M371.5,114.09h-5.5M45.5,110.87h5.5M371.5,110.87h-5.5M45.5,108.04h5.5M371.5,108.04h-5.5M45.5,105.50h11M371.5,105.50h-11M45.5,88.81h5.5M371.5,88.81h-5.5M45.5,79.04h5.5M371.5,79.04h-5.5M45.5,72.12h5.5M371.5,72.12h-5.5M45.5,66.74h5.5M371.5,66.74h-5.5M45.5,62.35h5.5M371.5,62.35h-5.5M45.5,58.64h5.5M371.5,58.64h-5.5M45.5,55.42h5.5M371.5,55.42h-5.5M45.5,52.59h5.5M371.5,52.59h-5.5M45.5,50.05h11M371.5,50.05h-11M45.5,33.36h5.5M371.5,33.36h-5.5M45.5,23.59h5.5M371.5,23.59h-5.5M45.5,458.51h7.5M371.5,458.51h-7.5M45.5,442.51h5M371.5,442.51h-5M45.5,428.99h5M371.5,428.99h-5M45.5,417.28h5M371.5,417.28h-5M45.5,406.94h5M371.5,406.94h-5M45.5,397.70h7.5M371.5,397.70h-7.5M45.5,389.34h5M371.5,389.34h-5M45.5,381.71h5M371.5,381.71h-5M45.5,374.68h5M371.5,374.68h-5M45.5,368.18h5M371.5,368.18h-5M45.5,362.13h5M371.5,362.13h-5M45.5,356.47h5M371.5,356.47h-5M45.5,351.15h5M371.5,351.15h-5M45.5,346.13h5M371.5,346.13h-5M45.5,341.39h5M371.5,341.39h-5M45.5,336.89h7.5M371.5,336.89h-7.5M45.5,332.61h5M371.5,332.61h-5M45.5,328.53h5M371.5,328.53h-5M45.5,324.63h5M371.5,324.63h-5M45.5,320.90h5M371.5,320.90h-5"/>
</g>
<rect x="73.55" y="208.05" width="5.5" height="5.5" fill="#000"/>
<line x1="63.8" y1="224" x2="88.2" y2="224" stroke="#b9621c" stroke-width="1" stroke-dasharray="2.5,1.8"/>
<circle cx="76.50" cy="224.00" r="2.75" fill="none" stroke="#b9621c" stroke-width="1.1"/>
<line x1="63.8" y1="237" x2="88.2" y2="237" stroke="#40a020" stroke-width="1" stroke-dasharray="3,2"/>
<rect x="73.70" y="234.20" width="5.6" height="5.6" fill="none" stroke="#40a020" stroke-width="1.1"/>
<line x1="63.8" y1="250" x2="88.2" y2="250" stroke="#0000e6" stroke-width="1"/>
<path d="M76.50,246.60L79.50,252.40L73.50,252.40Z" fill="#0000e6"/>
<line x1="63.8" y1="263" x2="88.2" y2="263" stroke="#18a0c0" stroke-width="1" stroke-dasharray="3.7,1.8,1.1,1.6"/>
<path d="M76.50,266.40L79.50,260.50L73.50,260.50Z" fill="#18a0c0"/>
<line x1="63.8" y1="276" x2="88.2" y2="276" stroke="#ff0000" stroke-width="1" stroke-dasharray="1,1"/>
<path d="M76.50,272.60L78.80,276.00L76.50,279.40L74.20,276.00Z" fill="#ff0000"/>
<text transform="translate(94.4,214.3) scale(0.94,1)" font-size="9.9">ATLAS</text>
<text transform="translate(94.4,227.3) scale(0.94,1)" font-size="9.9">Herwig++ 2.7.1 default</text>
<text transform="translate(94.4,240.3) scale(0.94,1)" font-size="9.9">Herwig 7.2.1 default</text>
<text transform="translate(94.4,253.3) scale(0.94,1)" font-size="9.9">Pythia 8.315 default</text>
<text transform="translate(94.4,266.3) scale(0.94,1)" font-size="9.9">Pythia 8.315 vincia-default</text>
<text transform="translate(94.4,279.3) scale(0.94,1)" font-size="9.9">Sherpa 2.2.9 default</text>
<text x="51.5" y="13.8" font-size="12.5">13000 GeV pp</text>
<text x="365.3" y="13.8" font-size="12.5" text-anchor="end">Z+Jet</text>
<text x="77" y="41.8" font-size="12">Transverse region, 60 &lt; p<tspan font-size="7.5" dx="-2.2" dy="-6.4">Z</tspan><tspan font-size="7.5" dx="-4.6" dy="13.3">T</tspan><tspan dx="0.6" dy="-6.9"> &lt; 80 [GeV], high thrust</tspan></text>
<text x="163" y="301.6" font-size="8.0" fill="#999">(ATLAS_2019_I1736531)</text>
<text x="40" y="54.15" font-size="11" text-anchor="end">10</text>
<text x="40" y="109.60" font-size="11" text-anchor="end">1</text>
<text x="40.7" y="166.35" font-size="11" text-anchor="end">10<tspan font-size="7.2" dx="0.3" dy="-5">−1</tspan></text>
<text x="39.0" y="221.80" font-size="11" text-anchor="end">10<tspan font-size="7.2" dx="0.3" dy="-5">−2</tspan></text>
<text x="39.0" y="277.25" font-size="11" text-anchor="end">10<tspan font-size="7.2" dx="0.3" dy="-5">−3</tspan></text>
<text x="38.3" y="341.19" font-size="11.6" text-anchor="end">2</text>
<text x="373.3" y="341.49" font-size="11.6">2</text>
<text x="38.3" y="402.00" font-size="11.6" text-anchor="end">1</text>
<text x="373.3" y="402.30" font-size="11.6">1</text>
<text x="38.3" y="462.81" font-size="11.6" text-anchor="end">0.5</text>
<text x="373.3" y="463.11" font-size="11.6">0.5</text>
<text x="120.73" y="489" font-size="11" text-anchor="middle">1</text>
<text x="246.11" y="489" font-size="11" text-anchor="middle">2</text>
<text x="371.49" y="489" font-size="11" text-anchor="middle">3</text>
<text x="289.3" y="500.4" font-size="12.6">Mean p<tspan font-size="8.5" dy="6">T</tspan><tspan dy="-6">/dη dϕ</tspan></text>
<text transform="translate(15.3,166.3) rotate(-90)" font-size="12">1/N<tspan font-size="7.5" dy="2.5">ev</tspan><tspan dy="-2.5"> dN</tspan><tspan font-size="7.5" dy="2.5">ev</tspan><tspan dy="-2.5">/d mean p</tspan><tspan font-size="7.5" dy="3">T</tspan></text>
<text transform="translate(15.3,53) rotate(-90)" font-size="12.4">[GeV]</text>
<text transform="translate(8.9,21.0) rotate(-90)" font-size="7.5">1</text>
<text transform="translate(17.5,427.6) rotate(-90) scale(0.96,1)" font-size="9.5">Ratio to ATLAS</text>
<text transform="translate(379.7,127.6) rotate(-90)" font-size="9.5" fill="#707070">Rivet 4.1.0, ≥ 3.7M events</text>
<text transform="translate(380.9,314.6) rotate(-90)" font-size="9.5" fill="#707070">mcplots.cern.ch [arXiv:2401.10621]</text>
</svg></body></html>
